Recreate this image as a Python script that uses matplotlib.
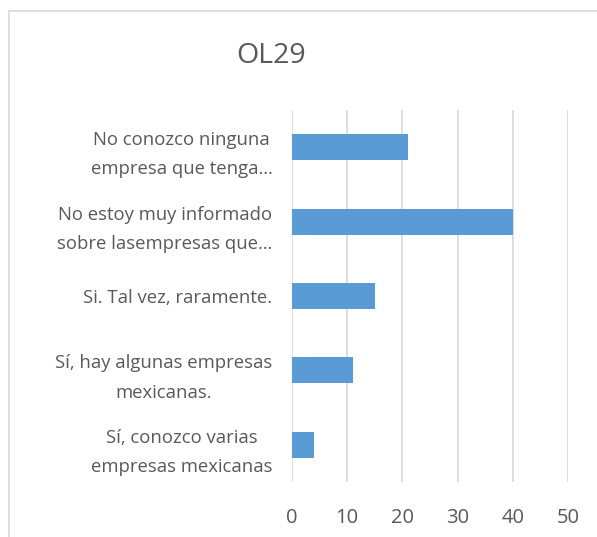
import matplotlib.pyplot as plt
from matplotlib.lines import Line2D

categories = [
    "No conozco ninguna\nempresa que tenga…",
    "No estoy muy informado\nsobre lasempresas que…",
    "Si. Tal vez, raramente.",
    "Sí, hay algunas empresas\nmexicanas.",
    "Sí, conozco varias\nempresas mexicanas",
]
values = [21, 40, 15, 11, 4]
ticks = [0, 10, 20, 30, 40, 50]

plt.rcParams['font.family'] = ['Open Sans', 'DejaVu Sans']
text_color = '#595959'
grid_color = '#d9d9d9'

W, H = 597, 537
fig = plt.figure(figsize=(W / 100, H / 100), dpi=100)
ax = fig.add_axes([292 / W, 1 - 482 / H, (568 - 292) / W, (482 - 110) / H])

y = list(range(len(categories)))[::-1]
ax.barh(y, values, height=0.35, color='#5b9bd5', zorder=3)

ax.set_xlim(0, 50)
ax.set_ylim(-0.5, len(categories) - 0.5)
ax.set_xticks(ticks)
ax.set_xticklabels([str(t) for t in ticks], fontsize=14.5, color=text_color)
ax.set_yticks(y)
ax.set_yticklabels(categories, fontsize=13.3, color=text_color,
                   multialignment='center', linespacing=1.8)
ax.tick_params(axis='x', length=0, pad=19)
ax.tick_params(axis='y', length=0, pad=14)
ax.grid(axis='x', color=grid_color, linewidth=1.2, zorder=0)
for s in ax.spines.values():
    s.set_visible(False)

fig.text(271 / W, 1 - 56 / H, "OL29", ha='center', va='center',
         fontsize=20.5, color=text_color)

# chart border (only left and top edges are visible)
fig.add_artist(Line2D([9 / W, 9 / W], [0, 1 - 11 / H], transform=fig.transFigure,
                      color=grid_color, linewidth=1.2))
fig.add_artist(Line2D([9 / W, 1], [1 - 11 / H, 1 - 11 / H], transform=fig.transFigure,
                      color=grid_color, linewidth=1.2))

fig.savefig('out.png', dpi=100)
